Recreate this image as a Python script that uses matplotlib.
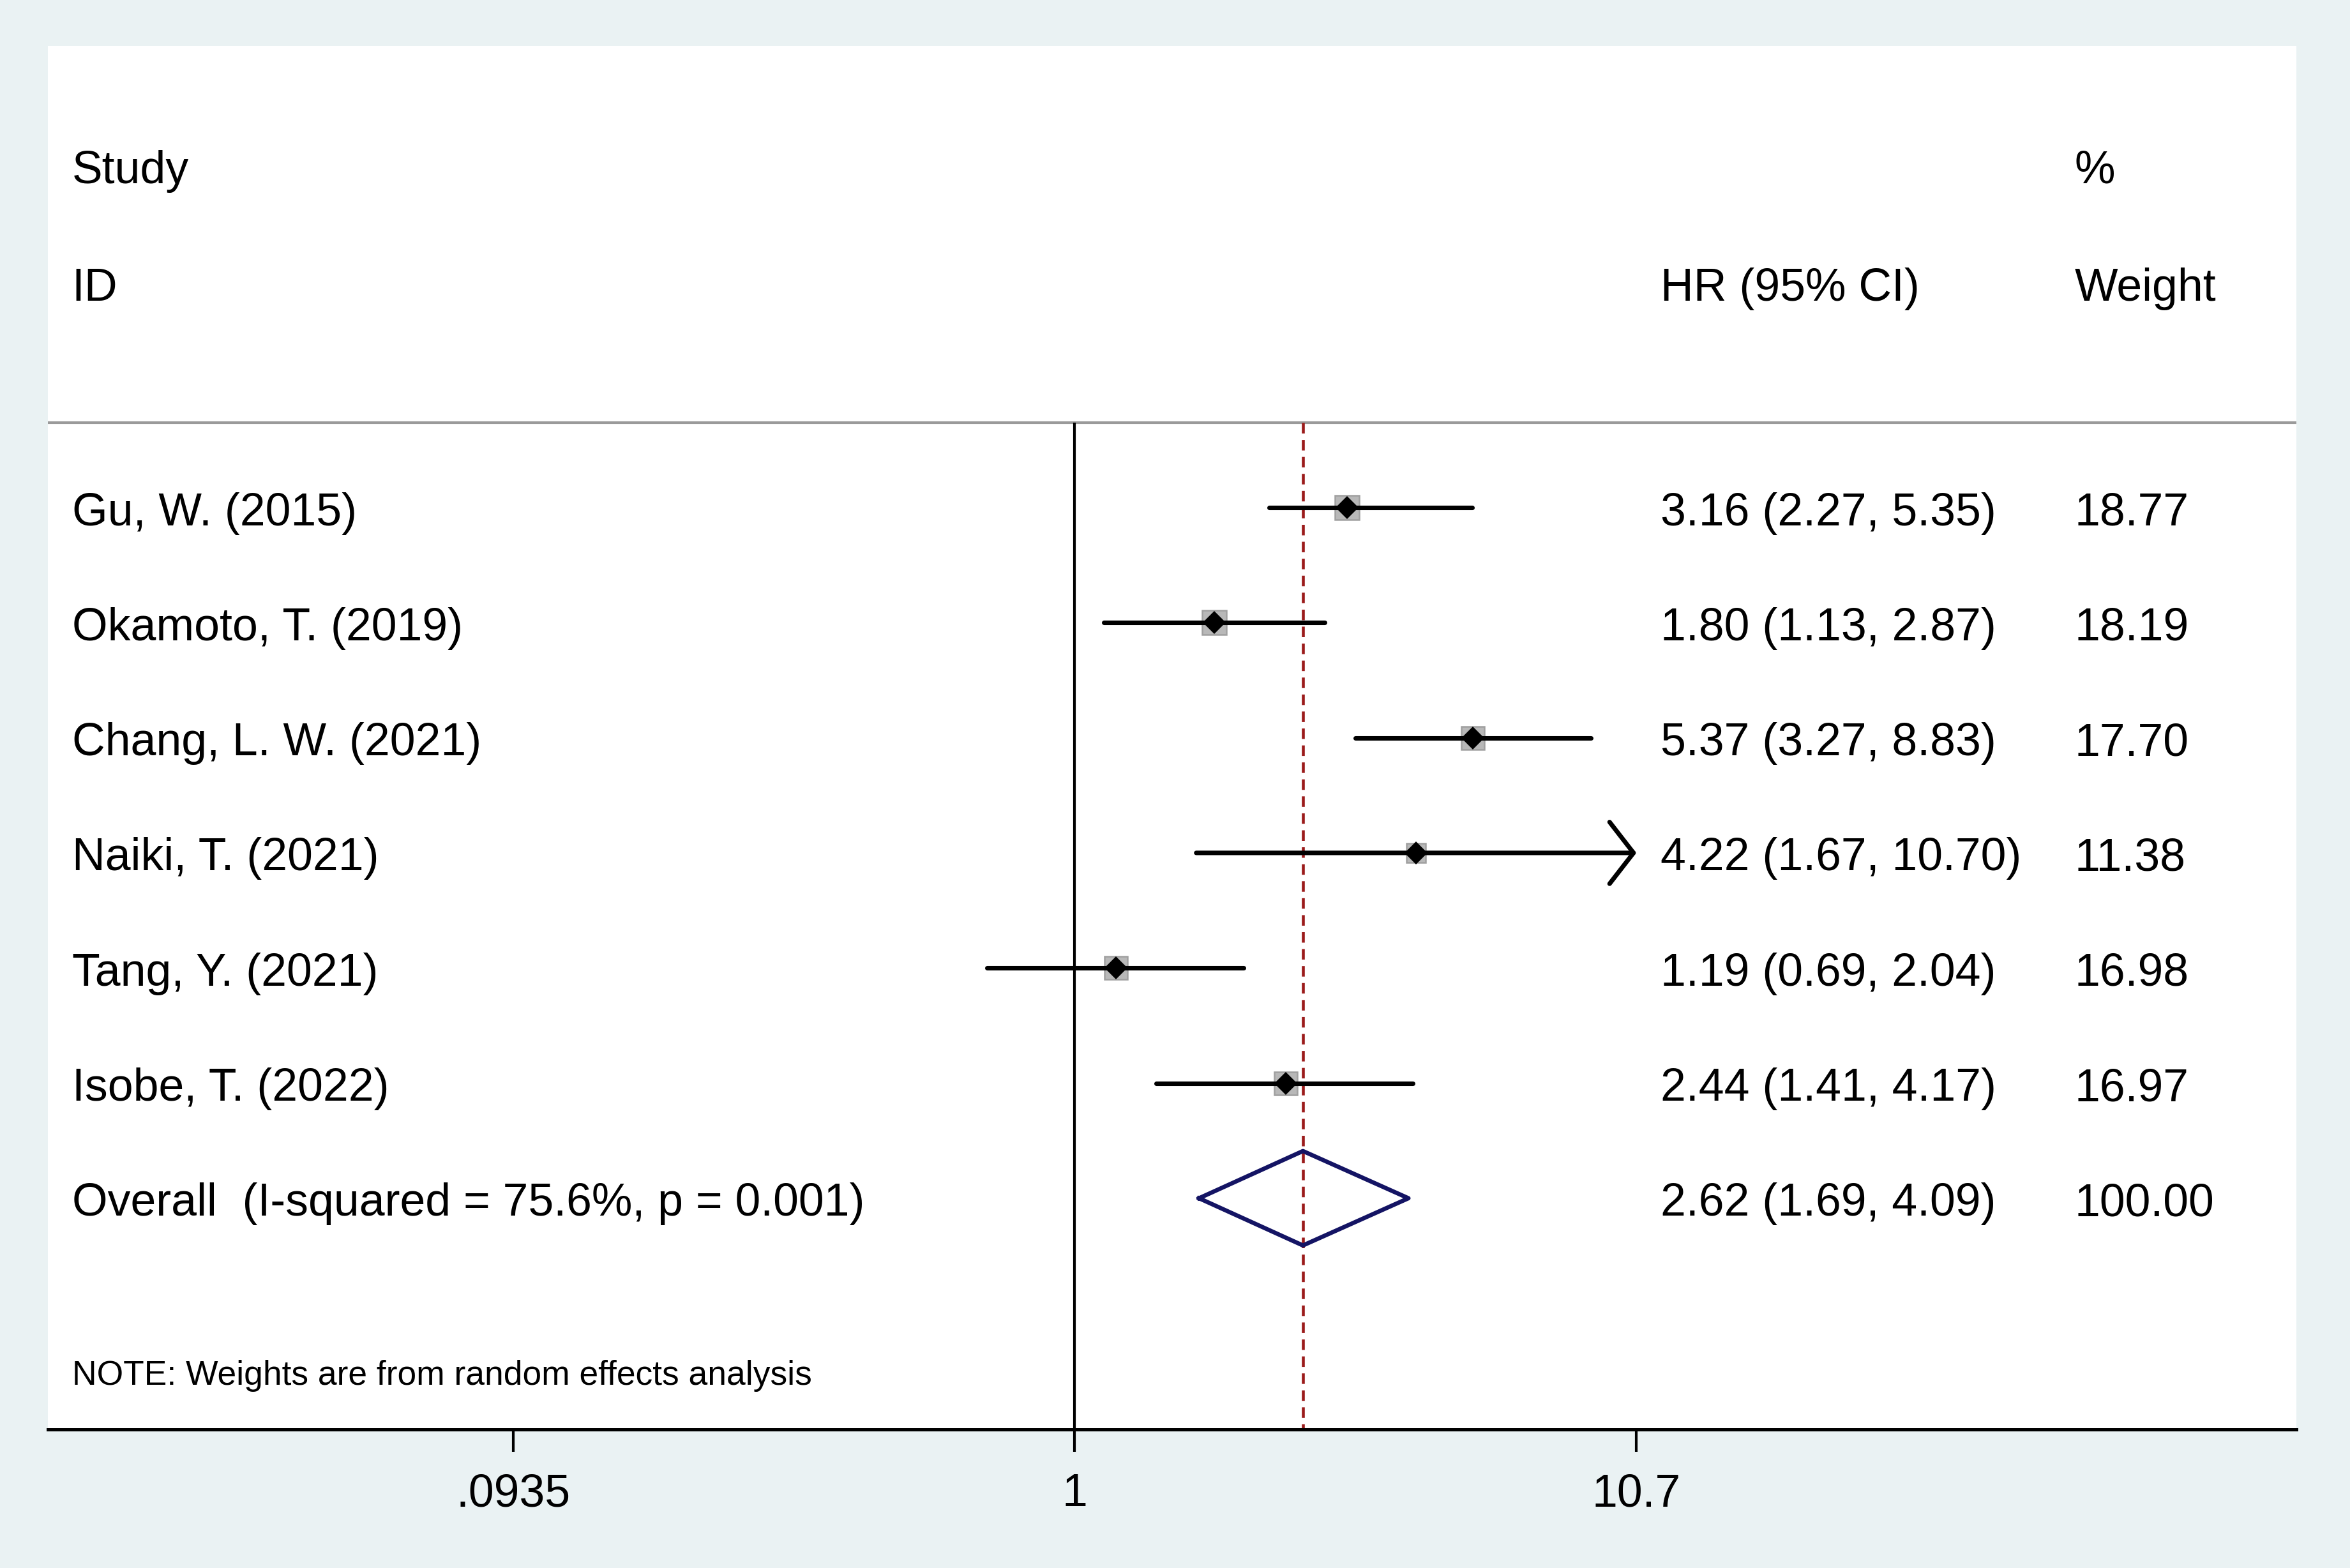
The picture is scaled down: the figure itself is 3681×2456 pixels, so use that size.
import numpy as np
import matplotlib
matplotlib.use("Agg")
from matplotlib import pyplot as plt
from matplotlib import transforms

plt.rcParams['font.family'] = ['Liberation Sans', 'DejaVu Sans']

# Study data
studies = ['Gu, W. (2015)', 'Okamoto, T. (2019)', 'Chang, L. W. (2021)',
           'Naiki, T. (2021)', 'Tang, Y. (2021)', 'Isobe, T. (2022)']
hr = [3.16, 1.80, 5.37, 4.22, 1.19, 2.44]
lo = [2.27, 1.13, 3.27, 1.67, 0.69, 1.41]
hi = [5.35, 2.87, 8.83, 10.70, 2.04, 4.17]
weight = [18.77, 18.19, 17.70, 11.38, 16.98, 16.97]

overall_label = 'Overall  (I-squared = 75.6%, p = 0.001)'
overall_hr, overall_lo, overall_hi = 2.62, 1.69, 4.09
overall_weight = 100.00

note = 'NOTE: Weights are from random effects analysis'
xticks = [0.0935, 1, 10.7]
xtick_labels = ['.0935', '1', '10.7']

bg = '#EAF2F3'
fig = plt.figure(figsize=(3681 / 300, 2456 / 300), dpi=300, facecolor=bg)
ax = fig.add_axes([0.0204, 0.0884, 0.9568, 0.8823])
ax.set_facecolor('white')

ax.set_xscale('log')
ax.set_xlim(10 ** -1.8815, 10 ** 2.2389)
ax.set_ylim(9.008, -3.01)

rows = np.arange(1, len(studies) + 1)
overall_row = len(studies) + 1
sep_row = 0.26
clip_hi = xticks[-1]
tdy = 0.05  # text sits a touch below the marker line

# reference lines
ax.axhline(sep_row, color='#9a9a9a', lw=1.0)
ax.vlines(1, sep_row, 9.008, color='black', lw=1.0)
ax.vlines(overall_hr, sep_row, 9.008, color='#9B1B1B', lw=1.1,
          linestyle=(0, (3.6, 2.2)))

# weight boxes, CI lines and point estimates
for r, e, l, h, w in zip(rows, hr, lo, hi, weight):
    ax.plot([e], [r], marker='s', ms=2.1 * np.sqrt(w), color='#B8B8B8',
            mec='#a0a0a0', mew=0.6, zorder=3)
    if h >= clip_hi:
        ax.annotate('', xy=(clip_hi, r), xytext=(l, r),
                    arrowprops=dict(arrowstyle='->,head_length=0.45,head_width=0.58',
                                    lw=1.7, color='black', shrinkA=0, shrinkB=0,
                                    mutation_scale=20), zorder=4)
    else:
        ax.plot([l, h], [r, r], color='black', lw=1.7, solid_capstyle='round', zorder=4)
    ax.plot([e], [r], marker='D', ms=5.0, color='black', zorder=5)

# overall diamond
dh = 0.41
ax.plot([overall_lo, overall_hr, overall_hi, overall_hr, overall_lo],
        [overall_row, overall_row - dh, overall_row, overall_row + dh, overall_row],
        color='#141464', lw=1.6, zorder=5)

# text columns
tr = transforms.blended_transform_factory(ax.transAxes, ax.transData)
fs = 17.2
x_id, x_hr, x_w = 0.0107, 0.7171, 0.9013
ax.text(x_id, -1.97 + tdy, 'Study', transform=tr, fontsize=fs, va='center')
ax.text(x_id, -0.95 + tdy, 'ID', transform=tr, fontsize=fs, va='center')
ax.text(x_w, -1.97 + tdy, '%', transform=tr, fontsize=fs, va='center')
ax.text(x_hr, -0.95 + tdy, 'HR (95% CI)', transform=tr, fontsize=fs, va='center')
ax.text(x_w, -0.95 + tdy, 'Weight', transform=tr, fontsize=fs, va='center')

for r, s, e, l, h, w in zip(rows, studies, hr, lo, hi, weight):
    ax.text(x_id, r + tdy, s, transform=tr, fontsize=fs, va='center')
    ax.text(x_hr, r + tdy, f'{e:.2f} ({l:.2f}, {h:.2f})', transform=tr,
            fontsize=fs, va='center')
    ax.text(x_w, r + tdy, f'{w:.2f}', transform=tr, fontsize=fs, va='center')

ax.text(x_id, overall_row + tdy, overall_label, transform=tr, fontsize=fs, va='center')
ax.text(x_hr, overall_row + tdy,
        f'{overall_hr:.2f} ({overall_lo:.2f}, {overall_hi:.2f})',
        transform=tr, fontsize=fs, va='center')
ax.text(x_w, overall_row + tdy, f'{overall_weight:.2f}', transform=tr,
        fontsize=fs, va='center')
ax.text(x_id, 8.54, note, transform=tr, fontsize=12.8, va='center')

# axes styling
for side in ('top', 'right', 'left'):
    ax.spines[side].set_visible(False)
ax.spines['bottom'].set_linewidth(1.2)
ax.set_yticks([])
ax.set_xticks(xticks)
ax.set_xticklabels(xtick_labels, fontsize=fs)
ax.xaxis.set_minor_locator(matplotlib.ticker.NullLocator())
ax.tick_params(axis='x', direction='out', length=8.4, width=1.0, pad=8)

fig.savefig('out.png', dpi=300, facecolor=bg)
